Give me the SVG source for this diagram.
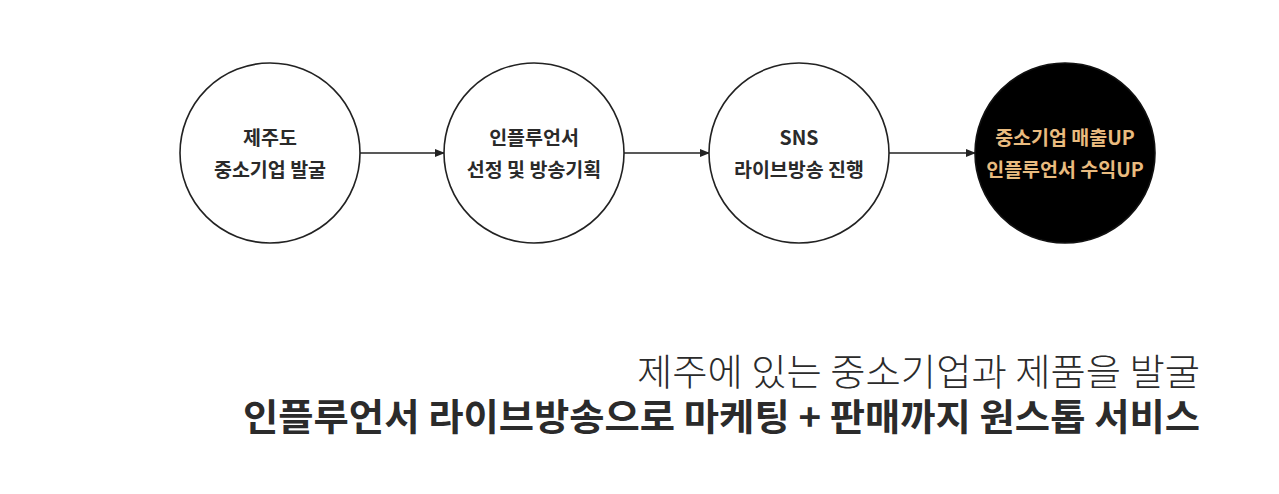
<svg xmlns="http://www.w3.org/2000/svg" width="1279" height="494" viewBox="0 0 1279 494">
<style>
.node{fill:#fff;stroke:#222;stroke-width:1.6}
.dark{fill:#000;stroke:#111;stroke-width:1.6}
.lbl{font-family:"Noto Sans CJK KR","Noto Sans",sans-serif;font-size:19.5px;font-weight:700;fill:#2a2a2a;text-anchor:middle}
.gold{fill:#e9bb7f}
.con{stroke:#222;stroke-width:1.6;fill:none;marker-end:url(#ah)}
.cap{font-family:"Noto Sans CJK KR","Noto Sans",sans-serif;font-size:37px;fill:#2b2b2b}
</style>
<defs>
<marker id="ah" markerWidth="10" markerHeight="8" refX="9" refY="4" orient="auto" markerUnits="userSpaceOnUse">
<path d="M0,0 L10,4 L0,8 Z" fill="#222"/>
</marker>
</defs>
<rect width="1279" height="494" fill="#fff"/>
<g id="connectors">
<line class="con" x1="360" y1="153" x2="444" y2="153"/>
<line class="con" x1="624" y1="153" x2="709" y2="153"/>
<line class="con" x1="889" y1="153" x2="975" y2="153"/>
</g>
<g id="node1">
<circle class="node" cx="270" cy="153" r="90"/>
<text class="lbl" x="270" y="145">제주도</text>
<text class="lbl" x="270" y="177">중소기업 발굴</text>
</g>
<g id="node2">
<circle class="node" cx="534" cy="153" r="90"/>
<text class="lbl" x="534" y="145">인플루언서</text>
<text class="lbl" x="534" y="177">선정 및 방송기획</text>
</g>
<g id="node3">
<circle class="node" cx="799" cy="153" r="90"/>
<text class="lbl" x="799" y="145">SNS</text>
<text class="lbl" x="799" y="177">라이브방송 진행</text>
</g>
<g id="node4">
<circle class="dark" cx="1065" cy="153" r="90"/>
<text class="lbl gold" x="1065" y="145">중소기업 매출UP</text>
<text class="lbl gold" x="1065" y="177">인플루언서 수익UP</text>
</g>
<g id="caption">
<text class="cap" x="637" y="386" font-weight="300" textLength="563" lengthAdjust="spacingAndGlyphs">제주에 있는 중소기업과 제품을 발굴</text>
<text class="cap" x="243" y="431" font-weight="700" textLength="957" lengthAdjust="spacingAndGlyphs">인플루언서 라이브방송으로 마케팅 + 판매까지 원스톱 서비스</text>
</g>
</svg>
